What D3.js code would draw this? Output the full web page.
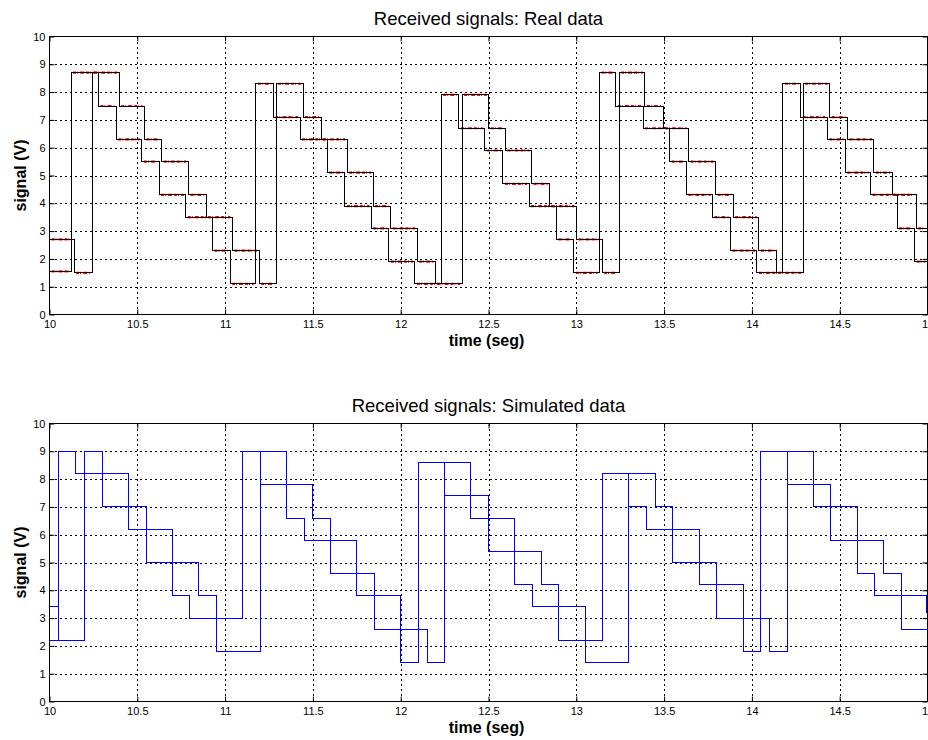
<!DOCTYPE html>
<html>
<head>
	<title>Received signals</title>
</head>
<style type="text/css">
	html, body {margin:0px; padding:0px; background:#fff;}
	svg {display:block; font-family:"Liberation Sans", Arial, sans-serif;}
</style>
<body>

	<svg></svg>

<script src="https://d3js.org/d3.v7.min.js"></script>
<script type="text/javascript">

	// tick labels
	const timeTicks = [10, 10.5, 11, 11.5, 12, 12.5, 13, 13.5, 14, 14.5, 15];
	const signalTicks = [0, 1, 2, 3, 4, 5, 6, 7, 8, 9, 10];

	// real data, channel 1 : [time, volts] where each level starts
	const realCh1 = [
		[10, 2.7], [10.140, 1.5], [10.243, 8.7], [10.397, 7.5], [10.541, 6.3], [10.639, 5.5],
		[10.791, 4.3], [10.892, 3.5], [11.042, 2.3], [11.194, 1.1], [11.290, 8.3], [11.445, 7.1],
		[11.547, 6.3], [11.695, 5.1], [11.843, 3.9], [11.942, 3.1], [12.094, 1.9], [12.198, 1.1],
		[12.350, 7.9], [12.502, 6.7], [12.597, 5.9], [12.745, 4.7], [12.849, 3.9], [13.001, 2.7],
		[13.147, 1.5], [13.244, 8.7], [13.390, 7.5], [13.494, 6.7], [13.640, 5.5], [13.794, 4.3],
		[13.893, 3.5], [14.039, 2.3], [14.139, 1.5], [14.291, 8.3], [14.443, 7.1], [14.544, 6.3],
		[14.695, 5.1], [14.798, 4.3], [14.936, 3.1]
	];
	// real data, channel 2
	const realCh2 = [
		[10, 1.55], [10.123, 8.7], [10.279, 7.5], [10.380, 6.3], [10.526, 5.5], [10.624, 4.3],
		[10.776, 3.5], [10.928, 2.3], [11.028, 1.1], [11.175, 8.3], [11.275, 7.1], [11.427, 6.3],
		[11.582, 5.1], [11.682, 3.9], [11.832, 3.1], [11.933, 1.9], [12.081, 1.1], [12.231, 7.9],
		[12.331, 6.7], [12.479, 5.9], [12.582, 4.7], [12.731, 3.9], [12.887, 2.7], [12.986, 1.5],
		[13.132, 8.7], [13.225, 7.5], [13.380, 6.7], [13.532, 5.5], [13.627, 4.3], [13.775, 3.5],
		[13.878, 2.3], [14.029, 1.5], [14.177, 8.3], [14.278, 7.1], [14.430, 6.3], [14.532, 5.1],
		[14.676, 4.3], [14.828, 3.1], [14.927, 1.9]
	];

	// simulated data
	const simCh1 = [
		[10, 2.2], [10.05, 9.0], [10.15, 8.2], [10.45, 6.2], [10.7, 3.8], [10.8, 3.0],
		[11.1, 9.0], [11.2, 7.8], [11.5, 6.6], [11.6, 4.6], [11.85, 2.6], [12.15, 1.4],
		[12.25, 8.6], [12.4, 6.6], [12.65, 4.2], [12.75, 3.4], [13.05, 1.4], [13.3, 8.2],
		[13.45, 7.0], [13.55, 5.0], [13.8, 3.0], [14.1, 1.8], [14.2, 9.0], [14.35, 7.0],
		[14.6, 4.6], [14.7, 3.8], [14.995, 3.2]
	];
	const simCh2 = [
		[10, 3.4], [10.05, 2.2], [10.2, 9.0], [10.3, 7.0], [10.55, 5.0], [10.85, 3.8],
		[10.95, 1.8], [11.2, 9.0], [11.35, 6.6], [11.45, 5.8], [11.75, 3.8], [12.0, 1.4],
		[12.1, 8.6], [12.25, 7.4], [12.5, 5.4], [12.8, 4.2], [12.9, 2.2], [13.15, 8.2],
		[13.3, 7.0], [13.4, 6.2], [13.7, 4.2], [13.95, 1.8], [14.05, 9.0], [14.2, 7.8],
		[14.45, 5.8], [14.75, 4.6], [14.85, 2.6]
	];

	const width = 928, height = 740;
	const tEnd = 15;

	const svg = d3.select('svg')
		.attr('width', width)
		.attr('height', height);

	const x = d3.scaleLinear().domain([10, 15]).range([49.5, 927.5]);
	const fmt = d => String(d);

	const panels = [
		{ top: 36.5, bottom: 314.5, title: 'Received signals: Real data',
			series: [realCh2, realCh1], colour: '#000', noise: true },
		{ top: 423.5, bottom: 701.5, title: 'Received signals: Simulated data',
			series: [simCh1, simCh2], colour: '#0000ff', noise: false }
	];

	// add closing point so the last level runs to the end
	function withEnd(d) {
		return d.concat([[tEnd, d[d.length - 1][1]]]);
	}

	panels.forEach(function(p, i) {
		const y = d3.scaleLinear().domain([0, 10]).range([p.bottom, p.top]);
		const g = svg.append('g');

		g.append('clipPath').attr('id', 'clip' + i)
			.append('rect')
			.attr('x', x.range()[0]).attr('y', p.top)
			.attr('width', x.range()[1] - x.range()[0]).attr('height', p.bottom - p.top);

		// dotted grid
		g.append('g').selectAll('line')
			.data(timeTicks.slice(1, -1))
			.join('line')
			.attr('x1', d => Math.round(x(d)) + 0.5).attr('x2', d => Math.round(x(d)) + 0.5)
			.attr('y1', p.top).attr('y2', p.bottom)
			.attr('stroke', '#000').attr('stroke-dasharray', '2,3')
			.attr('shape-rendering', 'crispEdges');
		g.append('g').selectAll('line')
			.data(signalTicks.slice(1, -1))
			.join('line')
			.attr('y1', d => Math.round(y(d)) + 0.5).attr('y2', d => Math.round(y(d)) + 0.5)
			.attr('x1', x.range()[0]).attr('x2', x.range()[1])
			.attr('stroke', '#000').attr('stroke-dasharray', '2,3')
			.attr('shape-rendering', 'crispEdges');

		const plot = g.append('g').attr('clip-path', 'url(#clip' + i + ')');

		// red measured samples along each level
		if (p.noise) {
			p.series.forEach(function(s) {
				const segs = d3.pairs(withEnd(s));
				plot.append('g').selectAll('line')
					.data(segs)
					.join('line')
					.attr('x1', d => x(d[0][0]) + 2)
					.attr('x2', d => x(d[1][0]) - 2)
					.attr('y1', d => y(d[0][1]))
					.attr('y2', d => y(d[0][1]))
					.attr('stroke', '#ff0000')
					.attr('stroke-width', 2.2)
					.attr('stroke-dasharray', '3,1,1,2,4,2');
			});
		}

		const line = d3.line()
			.x(d => x(d[0]))
			.y(d => y(d[1]))
			.curve(d3.curveStepAfter);

		plot.selectAll('path.sig')
			.data(p.series.map(withEnd))
			.join('path')
			.attr('class', 'sig')
			.attr('d', line)
			.attr('fill', 'none')
			.attr('stroke', p.colour)
			.attr('stroke-width', 1)
			.attr('shape-rendering', 'crispEdges');

		// axes with inward ticks (matlab style)
		g.append('g')
			.attr('transform', 'translate(0,' + p.bottom + ')')
			.call(d3.axisBottom(x).tickValues(timeTicks).tickSize(-5).tickPadding(6).tickFormat(fmt));
		g.append('g')
			.attr('transform', 'translate(0,' + p.top + ')')
			.call(d3.axisTop(x).tickValues(timeTicks).tickSize(-5).tickFormat(''));
		g.append('g')
			.attr('transform', 'translate(' + x.range()[0] + ',0)')
			.call(d3.axisLeft(y).tickValues(signalTicks).tickSize(-5).tickPadding(4).tickFormat(fmt));
		g.append('g')
			.attr('transform', 'translate(' + x.range()[1] + ',0)')
			.call(d3.axisRight(y).tickValues(signalTicks).tickSize(-5).tickFormat(''));

		g.selectAll('.domain').remove();
		g.selectAll('.tick line').attr('stroke', '#000');
		g.selectAll('.tick text')
			.attr('fill', '#000')
			.style('font-size', '11px')
			.style('font-family', '"Liberation Sans", Arial, sans-serif');

		// box
		g.append('rect')
			.attr('x', x.range()[0]).attr('y', p.top)
			.attr('width', x.range()[1] - x.range()[0])
			.attr('height', p.bottom - p.top)
			.attr('fill', 'none')
			.attr('stroke', '#000')
			.attr('shape-rendering', 'crispEdges');

		g.append('text')
			.attr('x', (x.range()[0] + x.range()[1]) / 2)
			.attr('y', p.top - 11.5)
			.attr('text-anchor', 'middle')
			.style('font-size', '18.5px')
			.text(p.title);

		g.append('text')
			.attr('x', (x.range()[0] + x.range()[1]) / 2 - 2)
			.attr('y', p.bottom + 31.5)
			.attr('text-anchor', 'middle')
			.style('font-size', '16px')
			.style('font-weight', 'bold')
			.text('time (seg)');

		g.append('text')
			.attr('transform', 'translate(26,' + ((p.top + p.bottom) / 2) + ') rotate(-90)')
			.attr('text-anchor', 'middle')
			.style('font-size', '16px')
			.style('font-weight', 'bold')
			.text('signal (V)');
	});

</script>
</body>
</html>
